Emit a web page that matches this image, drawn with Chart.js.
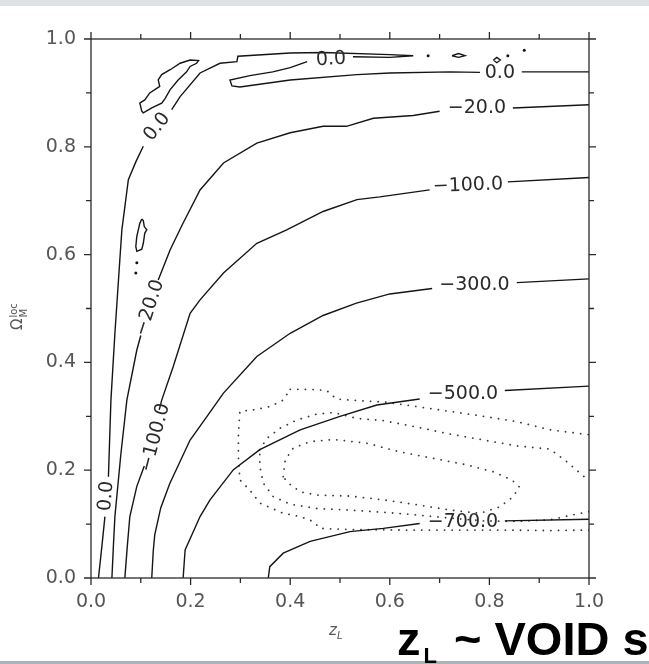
<!DOCTYPE html>
<html lang="es">
<head>
<meta charset="utf-8">
<title>Contornos z_L - Omega_M loc</title>
<script src="https://cdn.jsdelivr.net/npm/chart.js@4.4.1/dist/chart.umd.min.js"></script>
<style>
    html, body { margin: 0; padding: 0; background: #ffffff; }
    #lienzo { position: relative; width: 649px; height: 664px; overflow: hidden; }
    #banda-sup { position: absolute; left: 0; top: 0; width: 649px; height: 6px; background: #dde2e5; z-index: 2; }
    #banda-inf { position: absolute; left: 0; top: 661px; width: 649px; height: 3px; background: #a8b5bb; z-index: 2; }
    #titulo { position: absolute; left: 397px; top: 615px; white-space: nowrap; z-index: 3;
              font-family: 'Liberation Sans', Arial, sans-serif; font-weight: bold; font-size: 47px;
              line-height: 47px; color: #000; }
    #titulo sub { font-size: 22px; vertical-align: -8px; margin-left: 3px; margin-right: 4px; line-height: 0; }
</style>
</head>
<body>
<div id="lienzo">
    <div id="banda-sup"></div>
    <canvas id="chart-contornos" width="649" height="664"></canvas>
    <div id="banda-inf"></div>
    <div id="titulo">z<sub>L</sub> ~ VOID s</div>
</div>
<script>
// Marcas de los ejes (iguales en z_L y en Omega)
const ticksMayores = [0, 0.2, 0.4, 0.6, 0.8, 1.0];
const ticksMenores = [0.1, 0.3, 0.5, 0.7, 0.9];

// Contornos sólidos: pares [z_L, Omega_M^loc], null = hueco para la etiqueta
const contorno0 = [
    [0.015, 0], [0.022, 0.06], [0.028, 0.114], null,
    [0.035, 0.188], [0.04, 0.33], [0.048, 0.454], [0.057, 0.578], [0.062, 0.646],
    [0.075, 0.739], [0.09, 0.772], [0.105, 0.801], null,
    [0.162, 0.869], [0.179, 0.893], [0.219, 0.937], [0.259, 0.955], [0.293, 0.958],
    [0.295, 0.968], [0.4, 0.974], [0.466, 0.975], [0.6, 0.971], [0.647, 0.969],
    [0.6, 0.966], [0.526, 0.967], null,
    [0.434, 0.958], [0.4, 0.947], [0.365, 0.939], [0.319, 0.932], [0.279, 0.924],
    [0.283, 0.913], [0.299, 0.911], [0.4, 0.924], [0.534, 0.934], [0.6, 0.937],
    [0.721, 0.939], [0.781, 0.938], null,
    [0.865, 0.939], [1.0, 0.939]
];
const contorno20 = [
    [0.042, 0], [0.045, 0.06], [0.048, 0.114], [0.06, 0.23], [0.072, 0.33],
    [0.092, 0.423], [0.1, 0.45], null,
    [0.135, 0.553], [0.159, 0.609], [0.183, 0.655], [0.219, 0.72], [0.266, 0.77],
    [0.333, 0.807], [0.4, 0.826], [0.466, 0.838], [0.513, 0.838], [0.567, 0.853],
    [0.647, 0.858], [0.70, 0.866], null,
    [0.847, 0.872], [1.0, 0.878]
];
const contorno100 = [
    [0.068, 0], [0.073, 0.06], [0.078, 0.114], [0.092, 0.17], [0.107, 0.208], null,
    [0.137, 0.312], [0.142, 0.33], [0.165, 0.392], [0.199, 0.491], [0.219, 0.516],
    [0.266, 0.566], [0.333, 0.621], [0.393, 0.646], [0.466, 0.68], [0.534, 0.702],
    [0.58, 0.707], [0.68, 0.72], null,
    [0.837, 0.735], [1.0, 0.743]
];
const contorno300 = [
    [0.122, 0], [0.125, 0.05], [0.128, 0.08], [0.14, 0.13], [0.158, 0.175],
    [0.199, 0.256], [0.233, 0.3], [0.266, 0.343], [0.333, 0.411], [0.4, 0.454],
    [0.466, 0.487], [0.533, 0.51], [0.6, 0.527], [0.685, 0.537], null,
    [0.855, 0.548], [1.0, 0.555]
];
const contorno500 = [
    [0.185, 0], [0.189, 0.052], [0.219, 0.114], [0.239, 0.145], [0.286, 0.201],
    [0.339, 0.238], [0.42, 0.275], [0.5, 0.3], [0.574, 0.321], [0.66, 0.332], null,
    [0.831, 0.348], [1.0, 0.356]
];
const contorno700 = [
    [0.356, 0], [0.359, 0.021], [0.386, 0.046], [0.44, 0.068], [0.52, 0.086],
    [0.587, 0.092], [0.66, 0.101], null,
    [0.831, 0.106], [1.0, 0.109]
];

// Islas cerradas del nivel 0.0
const islaSuperior = [
    [0.102, 0.866], [0.098, 0.881], [0.108, 0.887], [0.118, 0.9], [0.138, 0.912],
    [0.135, 0.924], [0.142, 0.934], [0.159, 0.943], [0.179, 0.955], [0.199, 0.961],
    [0.216, 0.96], [0.212, 0.955], [0.199, 0.949], [0.192, 0.939], [0.175, 0.924],
    [0.159, 0.906], [0.149, 0.89], [0.142, 0.881], [0.122, 0.872], [0.105, 0.863],
    [0.102, 0.866]
];
const islaMedia = [
    [0.102, 0.666], [0.105, 0.663], [0.107, 0.652], [0.112, 0.646], [0.108, 0.64],
    [0.105, 0.621], [0.102, 0.61], [0.092, 0.606], [0.09, 0.615], [0.092, 0.634],
    [0.095, 0.646], [0.098, 0.658], [0.102, 0.666]
];
const manchaLarga = [[0.725, 0.969], [0.738, 0.973], [0.751, 0.969], [0.738, 0.966], [0.725, 0.969]];
const manchaAnillo = [[0.808, 0.961], [0.815, 0.966], [0.822, 0.961], [0.815, 0.956], [0.808, 0.961]];
const puntosSueltos = [[0.677, 0.969], [0.837, 0.969], [0.87, 0.979], [0.092, 0.585], [0.09, 0.566]];

// Contornos punteados (regiones de confianza)
const confInterior = [
    [0.386, 0.188], [0.39, 0.219], [0.406, 0.241], [0.44, 0.253], [0.487, 0.257],
    [0.554, 0.25], [0.62, 0.234], [0.687, 0.222], [0.754, 0.21], [0.808, 0.197],
    [0.845, 0.182], [0.86, 0.169], [0.848, 0.151], [0.821, 0.132], [0.781, 0.12],
    [0.721, 0.126], [0.654, 0.136], [0.587, 0.145], [0.52, 0.152], [0.453, 0.154],
    [0.42, 0.16], [0.396, 0.176], [0.386, 0.188]
];
const confMedio = [
    [0.339, 0.238], [0.353, 0.259], [0.38, 0.278], [0.413, 0.293], [0.453, 0.304],
    [0.487, 0.307], [0.534, 0.296], [0.587, 0.292], [0.654, 0.28], [0.721, 0.267],
    [0.788, 0.256], [0.855, 0.245], [0.922, 0.239], [0.955, 0.216], [0.989, 0.189],
    [1.0, 0.179], null,
    [1.0, 0.123], [0.982, 0.12], [0.922, 0.108], [0.855, 0.105], [0.788, 0.106],
    [0.721, 0.111], [0.654, 0.117], [0.587, 0.122], [0.52, 0.126], [0.453, 0.129],
    [0.4, 0.137], [0.366, 0.151], [0.346, 0.176], [0.339, 0.207], [0.339, 0.238]
];
const confExterior = [
    [0.4, 0.35], [0.44, 0.35], [0.473, 0.348], [0.493, 0.332], [0.54, 0.329],
    [0.594, 0.326], [0.654, 0.318], [0.721, 0.309], [0.788, 0.3], [0.855, 0.29],
    [0.922, 0.275], [0.989, 0.267], [1.0, 0.266], null,
    [1.0, 0.089], [0.922, 0.088], [0.821, 0.089], [0.721, 0.089], [0.62, 0.089],
    [0.52, 0.09], [0.46, 0.092], [0.446, 0.105], [0.42, 0.114], [0.386, 0.12],
    [0.339, 0.139], [0.319, 0.163], [0.299, 0.182], [0.296, 0.225], [0.296, 0.269],
    [0.299, 0.309], [0.326, 0.312], [0.359, 0.318], [0.386, 0.33], [0.4, 0.35]
];

// Etiquetas de nivel sobre las curvas
const etiquetasTexto = ['0.0', '\u221220.0', '\u2212100.0', '0.0', '0.0', '0.0',
                        '\u221220.0', '\u2212100.0', '\u2212300.0', '\u2212500.0', '\u2212700.0'];
const etiquetasZ  = [0.031, 0.118, 0.129, 0.133, 0.482, 0.821, 0.775, 0.757, 0.77, 0.747, 0.747];
const etiquetasOm = [0.152, 0.501, 0.26, 0.837, 0.962, 0.937, 0.871, 0.728, 0.543, 0.342, 0.104];
const etiquetasAngulo = [-85, -72, -75, -52, -3, 0, 0, -2, 0, 0, 0];

window.ContourView = {
    chart: null,

    // Función principal
    init() {
        Chart.defaults.font.family = "'DejaVu Sans', sans-serif";
        this.setupChart();
    },

    // Convertir pares [z, Omega] a puntos del scatter
    toPoints(lista) {
        return lista.map(p => p ? { x: p[0], y: p[1] } : { x: null, y: null });
    },

    solido(lista) {
        return {
            data: this.toPoints(lista),
            showLine: true,
            borderColor: '#151515',
            borderWidth: 1.4,
            pointRadius: 0,
            tension: 0
        };
    },

    punteado(lista) {
        return {
            data: this.toPoints(lista),
            showLine: true,
            borderColor: '#3a3a3a',
            borderWidth: 1.8,
            borderDash: [0.1, 7.5],
            borderCapStyle: 'round',
            pointRadius: 0,
            tension: 0
        };
    },

    // Plugin: marco con marcas hacia fuera, etiquetas y títulos de ejes
    marcoPlugin: {
        id: 'marcoContorno',
        afterDatasetsDraw(chart) {
            const { ctx, chartArea: a, scales: { x, y } } = chart;
            ctx.save();
            ctx.strokeStyle = '#2a2a2a';
            ctx.lineWidth = 1.3;
            ctx.strokeRect(a.left, a.top, a.right - a.left, a.bottom - a.top);

            const marcas = (valores, largo) => {
                ctx.beginPath();
                valores.forEach(v => {
                    const px = x.getPixelForValue(v);
                    const py = y.getPixelForValue(v);
                    ctx.moveTo(px, a.bottom); ctx.lineTo(px, a.bottom + largo);
                    ctx.moveTo(px, a.top); ctx.lineTo(px, a.top - largo);
                    ctx.moveTo(a.left, py); ctx.lineTo(a.left - largo, py);
                    ctx.moveTo(a.right, py); ctx.lineTo(a.right + largo, py);
                });
                ctx.stroke();
            };
            marcas(ticksMayores, 7);
            marcas(ticksMenores, 5);

            // Etiquetas de nivel
            ctx.fillStyle = '#2a2a2a';
            ctx.font = "19px 'DejaVu Sans', sans-serif";
            ctx.textAlign = 'center';
            ctx.textBaseline = 'middle';
            etiquetasTexto.forEach((txt, i) => {
                ctx.save();
                ctx.translate(x.getPixelForValue(etiquetasZ[i]), y.getPixelForValue(etiquetasOm[i]));
                ctx.rotate(etiquetasAngulo[i] * Math.PI / 180);
                ctx.fillText(txt, 0, 0);
                ctx.restore();
            });

            // Título eje x: z_L
            ctx.fillStyle = '#555';
            ctx.textAlign = 'left';
            ctx.textBaseline = 'alphabetic';
            ctx.font = "italic 15px 'DejaVu Sans', sans-serif";
            ctx.fillText('z', 329, 635);
            ctx.font = "italic 10px 'DejaVu Sans', sans-serif";
            ctx.fillText('L', 337, 639);

            // Título eje y: Omega_M^loc
            ctx.save();
            ctx.translate(22, 330);
            ctx.rotate(-Math.PI / 2);
            ctx.font = "15px 'DejaVu Sans', sans-serif";
            ctx.fillText('\u03A9', 0, 0);
            const w = ctx.measureText('\u03A9').width;
            ctx.font = "10px 'DejaVu Sans', sans-serif";
            ctx.fillText('loc', w + 1, -5);
            ctx.fillText('M', w + 1, 5);
            ctx.restore();

            ctx.restore();
        }
    },

    // Configurar gráfico
    setupChart() {
        const ctx = document.getElementById('chart-contornos');
        const datasets = [
            this.solido(contorno0),
            this.solido(contorno20),
            this.solido(contorno100),
            this.solido(contorno300),
            this.solido(contorno500),
            this.solido(contorno700),
            this.solido(islaSuperior),
            this.solido(islaMedia),
            this.solido(manchaLarga),
            this.solido(manchaAnillo),
            {
                data: this.toPoints(puntosSueltos),
                showLine: false,
                pointRadius: 1.5,
                pointBackgroundColor: '#151515',
                pointBorderWidth: 0
            },
            this.punteado(confInterior),
            this.punteado(confMedio),
            this.punteado(confExterior)
        ];

        const ejeComun = {
            type: 'linear',
            min: 0,
            max: 1,
            grid: { display: false, drawTicks: false },
            border: { display: false },
            ticks: {
                stepSize: 0.2,
                color: '#555',
                font: { size: 19 },
                callback: v => Number(v).toFixed(1)
            }
        };

        this.chart = new Chart(ctx, {
            type: 'scatter',
            data: { datasets },
            options: {
                responsive: false,
                animation: false,
                events: [],
                layout: { padding: { left: 0, top: 39, right: 60, bottom: 0 } },
                plugins: {
                    legend: { display: false },
                    tooltip: { enabled: false }
                },
                scales: {
                    x: {
                        ...ejeComun,
                        position: 'bottom',
                        ticks: { ...ejeComun.ticks, padding: 13, maxRotation: 0 },
                        afterFit: scale => { scale.height = 86; }
                    },
                    y: {
                        ...ejeComun,
                        position: 'left',
                        ticks: { ...ejeComun.ticks, padding: 15 },
                        afterFit: scale => { scale.width = 91; }
                    }
                }
            },
            plugins: [this.marcoPlugin]
        });
    }
};

if (document.readyState === 'loading') {
    document.addEventListener('DOMContentLoaded', () => window.ContourView.init());
} else {
    window.ContourView.init();
}
</script>
</body>
</html>
